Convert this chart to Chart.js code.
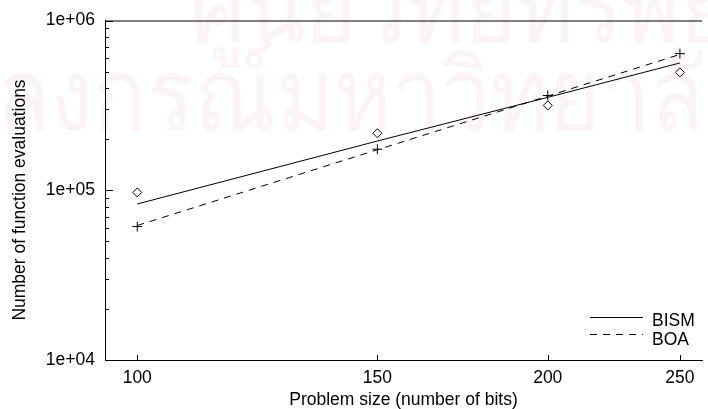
<!DOCTYPE html>
<html><head><meta charset="utf-8">
<script src="https://cdn.jsdelivr.net/npm/chart.js@4.4.1/dist/chart.umd.min.js"></script>
<style>html,body{margin:0;padding:0;background:#fff;}#wrap{width:708px;height:409px;}</style>
</head><body><div id="wrap"><canvas id="c" width="708" height="409"></canvas></div>
<script>
const problemSizes = [100, 150, 200, 250];
const bismEvals = [97000, 216600, 316000, 495000];
const boaEvals  = [61100, 174500, 361600, 638000];
const bismFit = [83000, 195000, 352600, 562000];
const boaFit  = [62000, 173200, 358600, 631000];
const xTickValues = [100, 150, 200, 250];
const xTickLabels = ['100', '150', '200', '250'];
const yTickValues = [1e4, 1e5, 1e6];
const yTickLabels = ['1e+04', '1e+05', '1e+06'];
const seriesNames = ['BISM', 'BOA'];
const xTitle = 'Problem size (number of bits)';
const yTitle = 'Number of function evaluations';
const watermark = ['ศูนย์วิทยทรัพยากร', 'จุฬาลงกรณ์มหาวิทยาลัย'];

const FONT = "'Liberation Sans', Arial, Helvetica, sans-serif";
const FS = 17.5;
const pts = (ys) => problemSizes.map((x, i) => ({x: x, y: ys[i]}));

const bgPlugin = {
  id: 'bg',
  beforeDraw(chart) {
    const ctx = chart.ctx;
    ctx.save();
    ctx.fillStyle = '#fff';
    ctx.fillRect(0, 0, chart.width, chart.height);
    ctx.fillStyle = '#fcf3f8';
    ctx.font = "100px 'Noto Sans', 'DejaVu Sans', sans-serif";
    ctx.textBaseline = 'alphabetic';
    ctx.textAlign = 'left';
    ctx.save();
    ctx.scale(0.88, 1);
    ctx.fillText(watermark[0], 190 / 0.88, 42);
    ctx.fillText(watermark[1], -165 / 0.88, 130);
    ctx.restore();
    ctx.restore();
  }
};

const framePlugin = {
  id: 'frame',
  afterDraw(chart) {
    const {ctx, chartArea: a, scales: {x, y}} = chart;
    ctx.save();
    ctx.strokeStyle = '#000';
    ctx.lineWidth = 1;
    ctx.beginPath();
    ctx.moveTo(a.left, a.top + 0.5); ctx.lineTo(a.right, a.top + 0.5);
    yTickValues.forEach(v => {
      const py = Math.round(y.getPixelForValue(v)) + 0.5;
      ctx.moveTo(a.left, py); ctx.lineTo(a.left + 8, py);
    });
    for (let d = 1e4; d < 1e6; d *= 10) {
      for (let m = 2; m <= 9; m++) {
        const py = Math.round(y.getPixelForValue(d * m)) + 0.5;
        ctx.moveTo(a.left, py); ctx.lineTo(a.left + 4, py);
      }
    }
    xTickValues.forEach(v => {
      const px = Math.round(x.getPixelForValue(v)) + 0.5;
      ctx.moveTo(px, a.bottom); ctx.lineTo(px, a.bottom - 5);
    });
    ctx.stroke();

    // y-axis title
    ctx.fillStyle = '#000';
    ctx.font = FS + 'px ' + FONT;
    ctx.save();
    ctx.translate(20, 200);
    ctx.rotate(-Math.PI / 2);
    ctx.textAlign = 'center';
    ctx.textBaseline = 'middle';
    ctx.fillText(yTitle, 0, 0);
    ctx.restore();

    // legend
    ctx.textBaseline = 'middle';
    ctx.textAlign = 'left';
    const lx0 = 590, lx1 = 643, tx = 652;
    const rows = [{y: 317, ty: 321, dash: []}, {y: 334, ty: 340, dash: [7, 6]}];
    rows.forEach((r, i) => {
      ctx.setLineDash(r.dash);
      ctx.beginPath();
      ctx.moveTo(lx0, r.y + 0.5); ctx.lineTo(lx1, r.y + 0.5);
      ctx.stroke();
      ctx.fillText(seriesNames[i], tx, r.ty);
    });
    ctx.setLineDash([]);
    ctx.restore();
  }
};

new Chart(document.getElementById('c'), {
  type: 'scatter',
  data: {
    datasets: [
      {label: seriesNames[0] + ' fit', data: pts(bismFit), showLine: true, pointRadius: 0,
       borderColor: '#000', borderWidth: 1, fill: false},
      {label: seriesNames[1] + ' fit', data: pts(boaFit), showLine: true, pointRadius: 0,
       borderColor: '#000', borderWidth: 1, borderDash: [7, 6], fill: false},
      {label: seriesNames[0], data: pts(bismEvals), pointStyle: 'rectRot', pointRadius: 4.5,
       borderColor: '#000', backgroundColor: '#fff', borderWidth: 1, showLine: false},
      {label: seriesNames[0] + ' centre', data: pts(bismEvals), pointStyle: 'circle', pointRadius: 0.6,
       borderColor: '#000', backgroundColor: '#000', borderWidth: 0, showLine: false},
      {label: seriesNames[1], data: pts(boaEvals), pointStyle: 'cross', pointRadius: 5,
       borderColor: '#000', backgroundColor: '#000', borderWidth: 1, showLine: false}
    ]
  },
  options: {
    responsive: false,
    animation: false,
    devicePixelRatio: 1,
    layout: {padding: {top: 19, right: 0, left: 0, bottom: 0}},
    plugins: {legend: {display: false}, tooltip: {enabled: false}},
    scales: {
      x: {
        type: 'logarithmic', position: 'bottom', min: 94.7, max: 259.5,
        grid: {display: false, drawTicks: false},
        border: {display: true, color: '#000', width: 1},
        afterBuildTicks(s) { s.ticks = xTickValues.map(v => ({value: v})); },
        afterFit(s) { s.height = 49; },
        ticks: {
          autoSkip: false, maxRotation: 0, padding: 8, color: '#000',
          font: {family: FONT, size: FS},
          callback(v) { const i = xTickValues.indexOf(v); return i >= 0 ? xTickLabels[i] : ''; }
        },
        title: {display: true, text: xTitle, color: '#000', font: {family: FONT, size: FS, lineHeight: 1},
                padding: {top: 0, bottom: 0}}
      },
      y: {
        type: 'logarithmic', position: 'left', min: 1e4, max: 1e6,
        grid: {display: false, drawTicks: false},
        border: {display: true, color: '#000', width: 1},
        afterBuildTicks(s) { s.ticks = yTickValues.map(v => ({value: v})); },
        afterFit(s) { s.width = 105; },
        ticks: {
          autoSkip: false, padding: 10, color: '#000',
          font: {family: FONT, size: FS},
          callback(v) { const i = yTickValues.indexOf(v); return i >= 0 ? yTickLabels[i] : ''; }
        },
        title: {display: false, text: yTitle}
      }
    }
  },
  plugins: [bgPlugin, framePlugin]
});
</script>
</body></html>
